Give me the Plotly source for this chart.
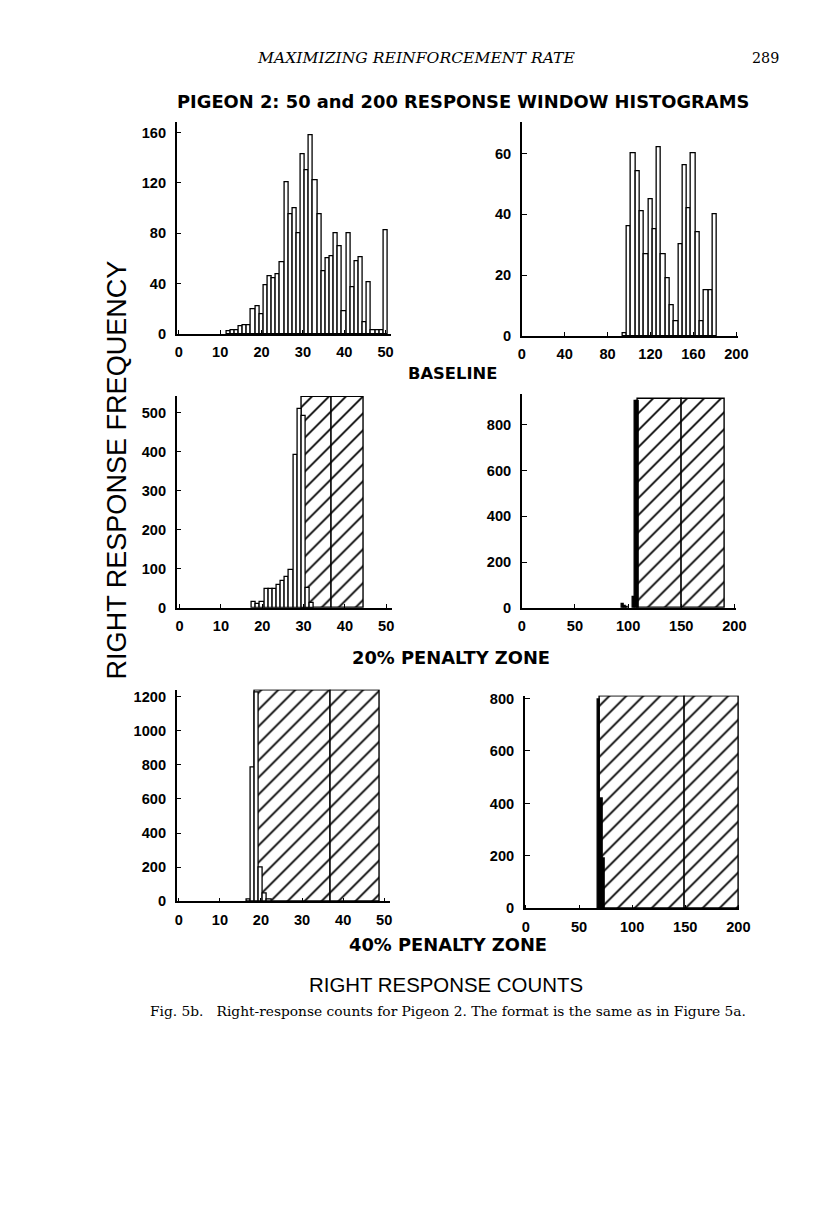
import plotly.graph_objects as go

# Figure size in CSS px. Positions below are measured in pixels on the
# 816x1207 reference page; PAGE_X / PAGE_Y map them to the figure so the
# photographed page lines up with the reference.
W, H = 835, 1218
PAGE_X = (0.979, 4.8)
PAGE_Y = (0.9906, 3.5)
FS = 1 / PAGE_X[0]

# ------------------------------------
# DATA (response counts per bin)
# ------------------------------------

# baseline, 50-response window
tl_bins = list(range(12, 51))
tl_counts = [2, 3, 3, 6, 7, 7, 20, 22, 16, 39, 46, 44, 47, 57, 120, 95, 100, 80,
             143, 130, 158, 122, 95, 50, 60, 62, 80, 70, 18, 80, 37, 58, 61, 9,
             41, 3, 3, 3, 82]

# baseline, 200-response window
tr_bins = [96, 100, 104, 108, 112, 116, 120, 124, 128, 132, 136, 140, 144, 148,
           152, 156, 160, 164, 168, 172, 176, 180]
tr_counts = [1, 36, 60, 54, 41, 27, 45, 35, 62, 27, 19, 10, 5, 30, 56, 42, 60,
             34, 5, 15, 15, 40]

# 20% penalty zone
ml_bins = [18, 19, 20, 21, 22, 23, 24, 25, 26, 27, 28, 29, 30, 31, 32]
ml_counts = [15, 10, 15, 48, 48, 48, 58, 69, 80, 97, 391, 511, 491, 50, 11]
ml_zone = [29.5, 36.9, 44.6]
ml_zone_top = 541

mr_bins = [95, 97, 99, 105, 107, 109]
mr_counts = [17, 6, 3, 45, 906, 906]
mr_zone = [109.5, 150.2, 190.6]
mr_zone_top = 914

# 40% penalty zone
bl_bins = [17, 18, 19, 20, 21, 22]
bl_counts = [10, 782, 1225, 198, 45, 8]
bl_zone = [18.5, 37.0, 49.0]
bl_zone_top = 1235

br_bins = [69, 71, 73]
br_counts = [795, 420, 190]
br_zone = [70, 149.6, 200.6]
br_zone_top = 808


# ------------------------------------
# PANEL GEOMETRY (pixels on the page)
# ------------------------------------

panels = [
    # (x0, x1, ytop, ybottom), xrange, yrange, xticks, yticks
    dict(box=(177, 391, 121, 333), xr=[-0.5, 51.4], yr=[0, 168],
         xt=[0, 10, 20, 30, 40, 50], yt=[0, 40, 80, 120, 160]),
    dict(box=(521, 737, 121, 335), xr=[0, 202], yr=[0, 70.2],
         xt=[0, 40, 80, 120, 160, 200], yt=[0, 20, 40, 60]),
    dict(box=(177, 392, 395, 607), xr=[-0.7, 51.5], yr=[0, 543.6],
         xt=[0, 10, 20, 30, 40, 50], yt=[0, 100, 200, 300, 400, 500]),
    dict(box=(521, 735, 393, 607), xr=[0, 202], yr=[0, 935],
         xt=[0, 50, 100, 150, 200], yt=[0, 200, 400, 600, 800]),
    dict(box=(177, 390, 689, 901), xr=[-0.5, 51.5], yr=[0, 1240],
         xt=[0, 10, 20, 30, 40, 50], yt=[0, 200, 400, 600, 800, 1000, 1200]),
    dict(box=(524, 738, 695, 908), xr=[-1, 201], yr=[0, 811],
         xt=[0, 50, 100, 150, 200], yt=[0, 200, 400, 600, 800]),
]


def fx(px):
    return (px - PAGE_X[1]) / PAGE_X[0] / W


def fy(py):
    return 1 - (py - PAGE_Y[1]) / PAGE_Y[0] / H


fig = go.Figure()


def zone_trace(edges, top, n):
    centers = [(edges[i] + edges[i + 1]) / 2 for i in range(2)]
    widths = [edges[i + 1] - edges[i] for i in range(2)]
    return go.Bar(
        x=centers, y=[top, top], width=widths,
        marker=dict(
            color="white",
            line=dict(color="black", width=1.4),
            pattern=dict(shape="/", fgcolor="black", bgcolor="white",
                         fgopacity=1, size=12, solidity=0.15)
        ),
        xaxis="x%d" % n, yaxis="y%d" % n, hoverinfo="skip"
    )


def bar_trace(bins, counts, width, n, fill="white"):
    return go.Bar(
        x=bins, y=counts, width=width,
        marker=dict(color=fill, line=dict(color="black", width=1.3)),
        xaxis="x%d" % n, yaxis="y%d" % n
    )


# zones behind the data bars
fig.add_trace(zone_trace(ml_zone, ml_zone_top, 3))
fig.add_trace(zone_trace(mr_zone, mr_zone_top, 4))
fig.add_trace(zone_trace(bl_zone, bl_zone_top, 5))
fig.add_trace(zone_trace(br_zone, br_zone_top, 6))

fig.add_trace(bar_trace(tl_bins, tl_counts, 1, 1))
fig.add_trace(bar_trace(tr_bins, tr_counts, 4, 2))
fig.add_trace(bar_trace(ml_bins, ml_counts, 1, 3))
fig.add_trace(bar_trace(mr_bins, mr_counts, 2, 4, fill="black"))
fig.add_trace(bar_trace(bl_bins, bl_counts, 1, 5))
fig.add_trace(bar_trace(br_bins, br_counts, 2, 6, fill="black"))


# ------------------------------------
# AXES
# ------------------------------------

tick_font = dict(family="Liberation Sans", size=14.3 * FS, color="black",
                 weight="bold")
layout_axes = {}
for i, p in enumerate(panels, start=1):
    x0, x1, yt, yb = p["box"]
    suffix = "" if i == 1 else str(i)
    layout_axes["xaxis" + suffix] = dict(
        domain=[fx(x0), fx(x1)], range=p["xr"], anchor="y%d" % i,
        tickvals=p["xt"], ticks="inside", ticklen=4, tickwidth=1.3,
        tickcolor="black", showline=True, linecolor="black", linewidth=1.5,
        showgrid=False, zeroline=False, tickfont=tick_font,
        ticklabelstandoff=4
    )
    layout_axes["yaxis" + suffix] = dict(
        domain=[fy(yb), fy(yt)], range=p["yr"], anchor="x%d" % i,
        tickvals=p["yt"], ticks="inside", ticklen=5, tickwidth=1.3,
        tickcolor="black", showline=True, linecolor="black", linewidth=1.5,
        showgrid=False, zeroline=False, tickfont=tick_font,
        ticklabelstandoff=6
    )


# ------------------------------------
# TEXTS
# ------------------------------------

def ann(text, x, y, size, family="DejaVu Sans", weight="normal",
        style="normal", angle=0, xanchor="center"):
    return dict(
        text=text, x=fx(x), y=fy(y), xref="paper", yref="paper",
        xanchor=xanchor, yanchor="middle", showarrow=False, textangle=angle,
        font=dict(family=family, size=size * FS, color="black", weight=weight,
                  style=style)
    )


annotations = [
    ann("MAXIMIZING REINFORCEMENT RATE", 416, 57, 15.3, "DejaVu Serif",
        style="italic"),
    ann("289", 779, 57, 14, "DejaVu Serif", xanchor="right"),
    ann("PIGEON 2: 50 and 200 RESPONSE WINDOW HISTOGRAMS", 462, 100, 17.5,
        weight="bold"),
    ann("RIGHT RESPONSE FREQUENCY", 117, 469, 26.5, "Liberation Sans",
        angle=-90),
    ann("BASELINE", 452, 372, 16, weight="bold"),
    ann("20% PENALTY ZONE", 450, 657, 17.5, weight="bold"),
    ann("40% PENALTY ZONE", 447, 944, 17.5, weight="bold"),
    ann("RIGHT RESPONSE COUNTS", 445, 985, 20, "Liberation Sans"),
    ann("Fig. 5b.&nbsp;&nbsp; Right-response counts for Pigeon 2. The format is "
        "the same as in Figure 5a.", 447, 1011, 13.5, "DejaVu Serif"),
]

fig.update_layout(
    width=W, height=H,
    margin=dict(l=0, r=0, t=0, b=0),
    paper_bgcolor="white", plot_bgcolor="white",
    barmode="overlay", bargap=0,
    showlegend=False,
    annotations=annotations,
    **layout_axes
)

fig.write_html(
    "out.html",
    config={"displayModeBar": False},
    post_script="document.body.style.margin='0';"
                "document.body.style.padding='0';"
                "document.documentElement.style.overflow='hidden';"
)
